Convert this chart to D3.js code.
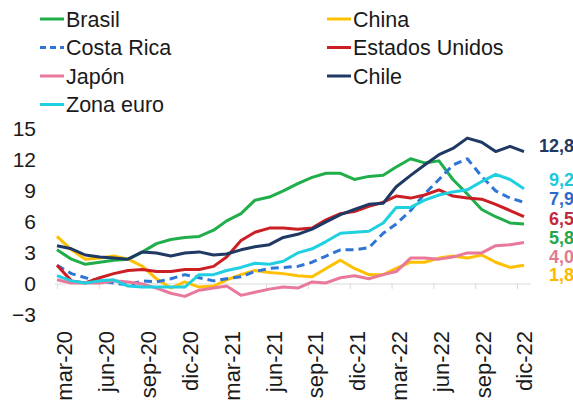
<!DOCTYPE html>
<html>
<head>
<meta charset="utf-8">
<script src="https://cdn.jsdelivr.net/npm/d3@7"></script>
<style>
  body { margin: 0; background: #fff; }
  svg { display: block; font-family: Arial, "Liberation Sans", sans-serif; }
</style>
</head>
<body>
<svg id="chart" width="573" height="401"></svg>
<script>
// Monthly year-on-year inflation (%), mar-20 .. dic-22
const months = d3.range(34).map(i => new Date(2020, 2 + i, 1));

const brasil = [3.3, 2.4, 1.9, 2.1, 2.3, 2.4, 3.1, 3.9, 4.3, 4.5,
                4.6, 5.2, 6.1, 6.8, 8.1, 8.4, 9.0, 9.7, 10.3, 10.7, 10.7, 10.1,
                10.4, 10.5, 11.3, 12.1, 11.7, 11.9, 10.1, 8.7, 7.2, 6.5, 5.9, 5.8];
const china = [4.6, 3.3, 2.4, 2.5, 2.7, 2.4, 1.7, 0.5, -0.4, 0.2,
               -0.3, -0.2, 0.4, 0.9, 1.3, 1.1, 1.0, 0.8, 0.7, 1.5, 2.3, 1.5,
               0.9, 0.9, 1.5, 2.1, 2.1, 2.5, 2.7, 2.5, 2.8, 2.1, 1.6, 1.8];
const costaRica = [1.8, 1.0, 0.6, 0.3, 0.1, -0.1, 0.3, 0.2, 0.5, 0.9,
                   0.6, 0.3, 0.5, 0.7, 1.2, 1.5, 1.6, 1.7, 2.1, 2.7, 3.3, 3.3,
                   3.5, 4.9, 5.8, 7.1, 8.7, 10.1, 11.5, 12.1, 10.4, 9.0, 8.3, 7.9];
const estadosUnidos = [1.8, 0.3, 0.1, 0.6, 1.0, 1.3, 1.4, 1.2, 1.2, 1.4,
                       1.4, 1.7, 2.6, 4.2, 5.0, 5.4, 5.4, 5.3, 5.4, 6.2, 6.8, 7.0,
                       7.5, 7.9, 8.5, 8.3, 8.6, 9.1, 8.5, 8.3, 8.2, 7.7, 7.1, 6.5];
const japon = [0.4, 0.1, 0.1, 0.1, 0.3, 0.2, 0.0, -0.4, -0.9, -1.2,
               -0.6, -0.4, -0.2, -1.1, -0.8, -0.5, -0.3, -0.4, 0.2, 0.1, 0.6, 0.8,
               0.5, 0.9, 1.2, 2.5, 2.5, 2.4, 2.6, 3.0, 3.0, 3.7, 3.8, 4.0];
const chile = [3.7, 3.4, 2.8, 2.6, 2.5, 2.4, 3.1, 3.0, 2.7, 3.0,
               3.1, 2.8, 2.9, 3.3, 3.6, 3.8, 4.5, 4.8, 5.3, 6.0, 6.7, 7.2,
               7.7, 7.8, 9.4, 10.5, 11.5, 12.5, 13.1, 14.1, 13.7, 12.8, 13.3, 12.8];
const zonaEuro = [0.8, 0.3, 0.1, 0.3, 0.4, -0.2, -0.3, -0.3, -0.3, -0.3,
                  0.9, 0.9, 1.3, 1.6, 2.0, 1.9, 2.2, 3.0, 3.4, 4.1, 4.9, 5.0,
                  5.1, 5.9, 7.4, 7.4, 8.1, 8.6, 8.9, 9.1, 9.9, 10.6, 10.1, 9.2];

const seriesNames = ["Brasil", "China", "Costa Rica", "Estados Unidos", "Japón", "Chile", "Zona euro"];
const seriesValues = [brasil, china, costaRica, estadosUnidos, japon, chile, zonaEuro];

const tickLabels = ["mar-20", "jun-20", "sep-20", "dic-20", "mar-21", "jun-21",
                    "sep-21", "dic-21", "mar-22", "jun-22", "sep-22", "dic-22"];
const yTicks = [-3, 0, 3, 6, 9, 12, 15];

// Look of each series
const style = {
  "Brasil":         { color: "#1fae4a", label: "#22a84a", dash: null,  labelY: 238 },
  "China":          { color: "#ffc000", label: "#ffb800", dash: null,  labelY: 275 },
  "Costa Rica":     { color: "#2e75d6", label: "#2e6acb", dash: "8,5", labelY: 199 },
  "Estados Unidos": { color: "#cc1f24", label: "#c32a3c", dash: null,  labelY: 218.5 },
  "Japón":          { color: "#e8799a", label: "#e07a93", dash: null,  labelY: 256.5 },
  "Chile":          { color: "#1f3864", label: "#1f3864", dash: null,  labelY: 146 },
  "Zona euro":      { color: "#1fd0e0", label: "#1cc8dc", dash: null,  labelY: 179.5 }
};

const svg = d3.select("#chart");

const x = d3.scaleTime().domain([months[0], months[months.length - 1]]).range([57, 524]);
const y = d3.scaleLinear().domain([-3, 15]).range([315, 128.8]);

// Axis tick marks every 90 days from the first month
const tickDates = tickLabels.map((_, k) => d3.timeDay.offset(months[0], 90 * k));

// Zero line with small downward ticks
svg.append("line")
  .attr("x1", 55).attr("x2", 531)
  .attr("y1", y(0)).attr("y2", y(0))
  .attr("stroke", "#d9d9d9").attr("stroke-width", 1);

const xAxis = svg.append("g")
  .attr("transform", `translate(0,${y(0)})`)
  .call(d3.axisBottom(x).tickValues(tickDates).tickFormat("").tickSize(5).tickSizeOuter(0));
xAxis.select(".domain").remove();
xAxis.selectAll(".tick line").attr("stroke", "#d9d9d9");

// Rotated month labels
const xLab = svg.append("g")
  .attr("transform", "translate(7,331)")
  .call(d3.axisBottom(x).tickValues(tickDates).tickFormat((d, i) => tickLabels[i]).tickSize(0));
xLab.select(".domain").remove();
xLab.selectAll(".tick text")
  .attr("font-size", 22).attr("fill", "#1a1a1a")
  .attr("text-anchor", "end")
  .attr("transform", "rotate(-90)")
  .attr("x", 0).attr("y", 0).attr("dy", "0.36em");

// Y axis labels
const yAxis = svg.append("g")
  .attr("transform", "translate(36,0)")
  .call(d3.axisLeft(y).tickValues(yTicks).tickSize(0).tickPadding(0));
yAxis.select(".domain").remove();
yAxis.selectAll(".tick text").attr("font-size", 21).attr("fill", "#1a1a1a");

// Series lines
const line = d3.line()
  .x((d, i) => x(months[i]))
  .y(d => y(d));

seriesNames.forEach((name, k) => {
  const s = style[name];
  svg.append("path")
    .datum(seriesValues[k])
    .attr("fill", "none")
    .attr("stroke", s.color)
    .attr("stroke-width", 3)
    .attr("stroke-linejoin", "round")
    .attr("stroke-dasharray", s.dash)
    .attr("d", line);
});

// End-of-period value labels
const fmt = v => d3.format(".1f")(v).replace(".", ",");
seriesNames.forEach((name, k) => {
  const vals = seriesValues[k];
  const s = style[name];
  svg.append("text")
    .attr("x", 574).attr("y", s.labelY).attr("dy", "0.36em")
    .attr("text-anchor", "end")
    .attr("font-size", 18).attr("font-weight", "bold")
    .attr("fill", s.label)
    .text(fmt(vals[vals.length - 1]));
});

// Legend in two columns, filled row by row
const legend = svg.append("g");
seriesNames.forEach((name, k) => {
  const col = k % 2, row = Math.floor(k / 2);
  const s = style[name];
  const gx = col === 0 ? 40 : 327;
  const gy = 19 + row * 28.5;
  legend.append("line")
    .attr("x1", gx).attr("x2", gx + 24)
    .attr("y1", gy).attr("y2", gy)
    .attr("stroke", s.color).attr("stroke-width", 3)
    .attr("stroke-dasharray", s.dash ? "6,4" : null);
  legend.append("text")
    .attr("x", gx + 26).attr("y", gy).attr("dy", "0.36em")
    .attr("font-size", 21.5).attr("fill", "#1a1a1a")
    .text(name);
});
</script>
</body>
</html>
